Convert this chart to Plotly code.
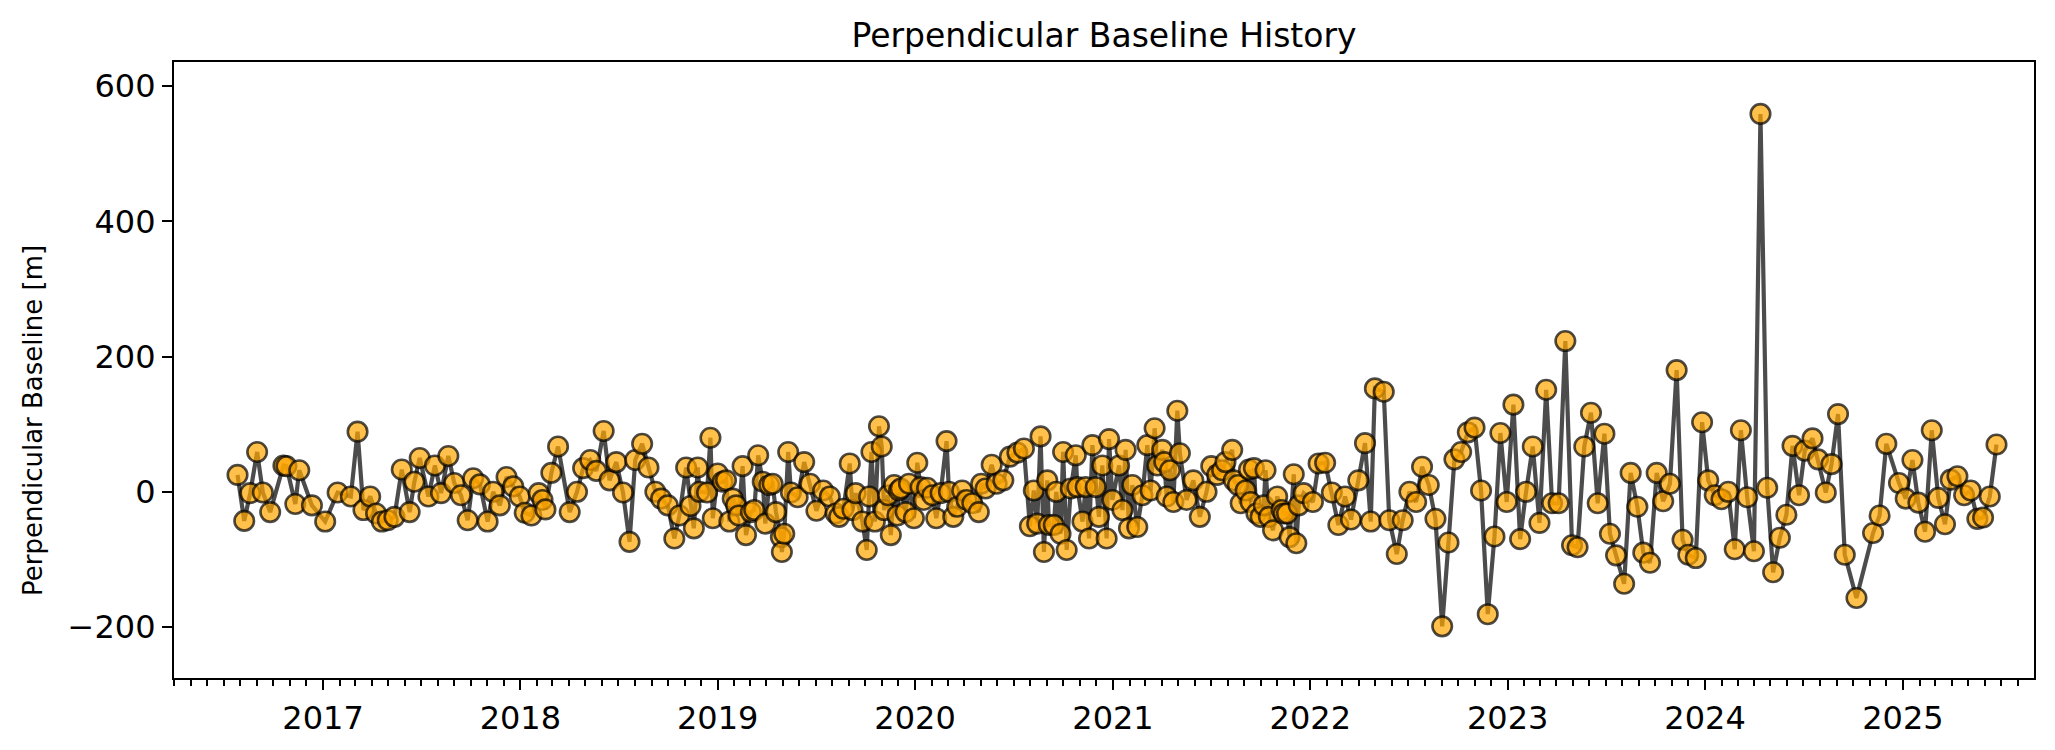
import datetime as dt
import plotly.graph_objects as go

# Acquisition times (decimal years) and perpendicular baseline [m]
t_year = [
    2016.568, 2016.602, 2016.632, 2016.667, 2016.696, 2016.733, 2016.800, 2016.815, 2016.860, 2016.880,
    2016.944, 2017.011, 2017.074, 2017.141, 2017.175, 2017.205, 2017.239, 2017.269, 2017.298, 2017.328,
    2017.362, 2017.399, 2017.439, 2017.463, 2017.490, 2017.534, 2017.567, 2017.598, 2017.635, 2017.665,
    2017.699, 2017.733, 2017.761, 2017.795, 2017.834, 2017.862, 2017.896, 2017.930, 2017.964, 2017.997,
    2018.022, 2018.056, 2018.093, 2018.112, 2018.127, 2018.157, 2018.191, 2018.250, 2018.287, 2018.318,
    2018.354, 2018.385, 2018.422, 2018.452, 2018.486, 2018.520, 2018.553, 2018.582, 2018.617, 2018.649,
    2018.684, 2018.713, 2018.747, 2018.780, 2018.806, 2018.840, 2018.862, 2018.879, 2018.899, 2018.907,
    2018.946, 2018.963, 2018.975, 2019.000, 2019.025, 2019.042, 2019.059, 2019.076, 2019.093, 2019.106,
    2019.126, 2019.143, 2019.168, 2019.185, 2019.205, 2019.228, 2019.241, 2019.261, 2019.278, 2019.295,
    2019.320, 2019.325, 2019.337, 2019.357, 2019.371, 2019.405, 2019.438, 2019.468, 2019.500, 2019.534,
    2019.568, 2019.598, 2019.615, 2019.637, 2019.669, 2019.683, 2019.699, 2019.733, 2019.755, 2019.767,
    2019.779, 2019.796, 2019.817, 2019.831, 2019.843, 2019.863, 2019.877, 2019.894, 2019.910, 2019.918,
    2019.927, 2019.952, 2019.969, 2019.994, 2020.011, 2020.028, 2020.044, 2020.061, 2020.087, 2020.107,
    2020.129, 2020.159, 2020.171, 2020.193, 2020.213, 2020.238, 2020.260, 2020.289, 2020.322, 2020.334,
    2020.356, 2020.387, 2020.412, 2020.446, 2020.479, 2020.517, 2020.550, 2020.580, 2020.600, 2020.617,
    2020.634, 2020.651, 2020.668, 2020.676, 2020.701, 2020.713, 2020.735, 2020.748, 2020.766, 2020.787,
    2020.812, 2020.820, 2020.846, 2020.862, 2020.879, 2020.896, 2020.913, 2020.929, 2020.946, 2020.968,
    2020.980, 2020.997, 2021.031, 2021.048, 2021.064, 2021.081, 2021.098, 2021.123, 2021.149, 2021.174,
    2021.191, 2021.211, 2021.225, 2021.250, 2021.260, 2021.272, 2021.289, 2021.306, 2021.326, 2021.339,
    2021.373, 2021.407, 2021.440, 2021.474, 2021.498, 2021.528, 2021.553, 2021.570, 2021.604, 2021.612,
    2021.633, 2021.647, 2021.672, 2021.689, 2021.697, 2021.714, 2021.727, 2021.748, 2021.764, 2021.773,
    2021.790, 2021.811, 2021.832, 2021.854, 2021.865, 2021.882, 2021.895, 2021.916, 2021.929, 2021.941,
    2021.966, 2022.013, 2022.042, 2022.075, 2022.109, 2022.142, 2022.176, 2022.206, 2022.243, 2022.277,
    2022.306, 2022.327, 2022.372, 2022.400, 2022.438, 2022.468, 2022.502, 2022.536, 2022.566, 2022.600,
    2022.634, 2022.668, 2022.700, 2022.730, 2022.764, 2022.798, 2022.832, 2022.865, 2022.899, 2022.933,
    2022.963, 2022.995, 2023.029, 2023.063, 2023.093, 2023.127, 2023.161, 2023.195, 2023.225, 2023.258,
    2023.292, 2023.326, 2023.354, 2023.388, 2023.422, 2023.456, 2023.490, 2023.518, 2023.549, 2023.590,
    2023.623, 2023.657, 2023.687, 2023.721, 2023.755, 2023.788, 2023.822, 2023.856, 2023.886, 2023.915,
    2023.953, 2023.985, 2024.016, 2024.049, 2024.083, 2024.117, 2024.150, 2024.181, 2024.213, 2024.247,
    2024.280, 2024.314, 2024.344, 2024.378, 2024.411, 2024.442, 2024.475, 2024.504, 2024.543, 2024.571,
    2024.610, 2024.639, 2024.672, 2024.706, 2024.765, 2024.849, 2024.882, 2024.916, 2024.980, 2025.014,
    2025.048, 2025.078, 2025.112, 2025.146, 2025.179, 2025.213, 2025.242, 2025.276, 2025.310, 2025.343,
    2025.377, 2025.406, 2025.440, 2025.474,
]

bperp_m = [
    25, -43, -2, 59, -1, -30, 39, 38, -18, 32,
    -20, -44, -1, -7, 89, -27, -7, -32, -44, -42,
    -37, 33, -30, 15, 50, -7, 39, -2, 53, 13,
    -5, -42, 20, 11, -44, 0, -20, 22, 8, -7,
    -31, -35, -2, -12, -26, 28, 67, -30, 0, 35,
    47, 31, 90, 17, 44, -1, -74, 47, 71, 36,
    0, -10, -20, -69, -35, 36, -21, -54, 36, 0,
    -1, 80, -39, 27, 15, 17, -44, -10, -20, -35,
    38, -64, -30, -27, 54, 15, -47, 10, 12, -30,
    -67, -89, -62, 59, -1, -8, 44, 12, -28, 2,
    -7, -32, -37, -25, 42, -27, -2, -44, -86, -7,
    59, -44, 97, 67, -27, -5, -64, 10, -35, 2,
    5, -30, 12, -39, 43, 7, -12, 6, -5, -39,
    -2, 75, 0, -37, -22, 2, -12, -17, -30, 12,
    5, 40, 12, 17, 52, 58, 64, -51, 2, -47,
    82, -89, 17, -49, -49, 0, -62, 59, -86, 5,
    54, 7, -44, 7, -69, 69, 7, -37, 39, -69,
    78, -12, 39, -27, 62, -54, 10, -52, -5, 69,
    2, 94, 39, 62, 44, -7, 32, -15, 120, 57,
    -12, 17, -37, 0, 38, 25, 32, 44, 62, 17,
    10, -17, 2, 33, -15, 35, -32, -37, -20, 32,
    -37, -57, -7, -27, -32, -32, -67, 26, -76, -20,
    -2, -15, 42, 43, -1, -49, -7, -41, 17, 72,
    -44, 153, 148, -42, -92, -42, 0, -15, 37, 10,
    -40, -199, -75, 48, 59, 88, 95, 2, -181, -66,
    87, -15, 129, -70, 0, 67, -46, 151, -17, -17,
    223, -79, -82, 67, 117, -17, 86, -62, -94, -136,
    28, -22, -90, -105, 28, -14, 12, 180, -71, -93,
    -98, 103, 17, -5, -11, 0, -85, 91, -8, -88,
    559, 6, -119, -68, -34, 68, -5, 61, 79, 48,
    -1, 41, 115, -93, -157, -61, -35, 71, 13, -10,
    47, -16, -59, 91, -9, -48, 18, 23, -5, 2,
    -40, -38, -7, 70,
]

x_range_year = [2016.247, 2025.664]
y_range = [-275.4, 635.8]


def year_to_date(t):
    y = int(t)
    start = dt.datetime(y, 1, 1)
    end = dt.datetime(y + 1, 1, 1)
    return start + (end - start) * (t - y)


dates = [year_to_date(t) for t in t_year]

FONT = "DejaVu Sans"
PAGE_OFFSET = 8  # default body margin of the html page
W, H = 2055 - PAGE_OFFSET, 750 - PAGE_OFFSET
ML, MR, MT, MB = 174 - PAGE_OFFSET, 21, 62 - PAGE_OFFSET, 72
plot_w = W - ML - MR
plot_h = H - MT - MB

fig = go.Figure()
fig.add_trace(go.Scatter(
    x=dates, y=bperp_m,
    mode="lines+markers",
    line=dict(color="rgba(0,0,0,0.7)", width=4.2),
    marker=dict(size=19.5, color="rgba(255,165,0,0.7)",
                line=dict(color="rgba(0,0,0,0.7)", width=2.6)),
    showlegend=False,
))

fig.update_layout(
    width=W, height=H,
    margin=dict(l=ML, r=MR, t=MT, b=MB),
    paper_bgcolor="white", plot_bgcolor="white",
    font=dict(family=FONT, color="black", size=32),
    title=dict(text="Perpendicular Baseline History", x=0.5, xanchor="center",
               xref="paper", y=1 - (35 - PAGE_OFFSET) / H, yref="container",
               yanchor="middle",
               font=dict(size=33, family=FONT, color="black")),
)

# y-axis label placed as rotated text left of the tick labels
fig.add_annotation(
    text="Perpendicular Baseline [m]", textangle=-90,
    xref="paper", yref="paper",
    x=-(174 - 33) / plot_w, y=(678 - 421) / plot_h,
    xanchor="center", yanchor="middle", showarrow=False,
    font=dict(size=26, family=FONT, color="black"),
)

fig.update_xaxes(
    type="date",
    range=[year_to_date(x_range_year[0]), year_to_date(x_range_year[1])],
    tick0="2017-01-01", dtick="M12", tickformat="%Y",
    ticks="outside", ticklen=10, tickwidth=2.2, tickcolor="black",
    showline=True, linecolor="black", linewidth=2.2, mirror=True,
    showgrid=False, zeroline=False,
    tickfont=dict(size=32, family=FONT),
    minor=dict(dtick="M1", ticks="outside", ticklen=5.5, tickwidth=1.5,
               tickcolor="black", showgrid=False),
)

fig.update_yaxes(
    range=y_range,
    tickmode="array", tickvals=[-200, 0, 200, 400, 600],
    ticks="outside", ticklen=10, tickwidth=2.2, tickcolor="black",
    showline=True, linecolor="black", linewidth=2.2, mirror=True,
    showgrid=False, zeroline=False,
    tickfont=dict(size=32, family=FONT),
)

fig.write_html("out.html")
